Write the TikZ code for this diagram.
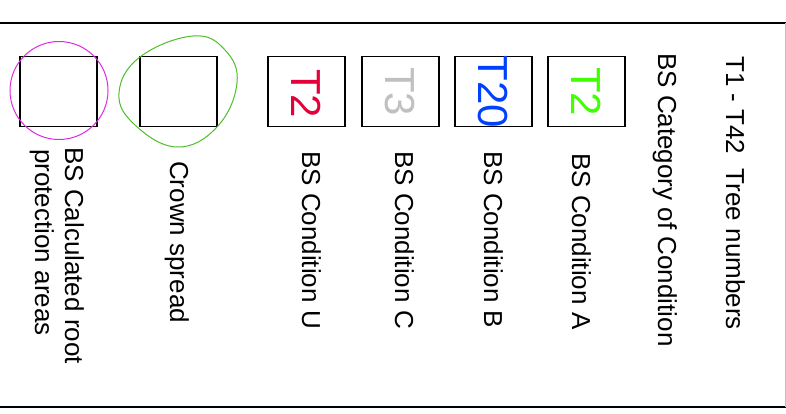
\documentclass[tikz,border=0pt]{standalone}
\usepackage{fontspec}
\setmainfont{Liberation Sans}
\definecolor{condU}{RGB}{228,0,58}
\definecolor{condC}{RGB}{192,192,192}
\definecolor{condB}{RGB}{0,64,255}
\definecolor{condA}{RGB}{64,255,0}
\definecolor{rpa}{RGB}{225,40,225}
\definecolor{crown}{RGB}{80,190,40}
\begin{document}
\begin{tikzpicture}[x=1pt,y=-1pt,
  swatch/.style={draw=black, line width=1.5pt, minimum width=77pt, minimum height=70pt, inner sep=0pt, anchor=north west},
  code/.style={font=\fontsize{42}{48}\selectfont, rotate=-90, inner sep=0pt},
  lbl/.style={font=\fontsize{26}{30}\selectfont, rotate=-90, anchor=base west, inner sep=0pt},
  outline/.style={line width=1pt}]
\useasboundingbox (0,0) rectangle (786,414);
% frame
\draw[line width=2pt] (0,23) -- (786,23);
\draw[line width=2.5pt] (0,407) -- (786,407);
\draw[black!25, line width=1pt] (785,23) -- (785,407);
% swatches
\node[swatch] (rpabox) at (19,56) {};
\node[swatch] (crownbox) at (139,56) {};
\node[swatch] (ubox) at (267,56) {};
\node[swatch] (cbox) at (361,56) {};
\node[swatch] (bbox) at (454,56) {};
\node[swatch] (abox) at (547,56) {};
% outlines
\draw[rpa, outline] (59,90.5) circle (49);
\draw[crown, outline] plot[smooth cycle, tension=0.7] coordinates
  {(193,36) (225,50) (237,83) (217,127) (177,147) (135,125) (119,93) (140,57)};
% tree numbers
\node[code, text=condU] (tu) at ([yshift=-2pt]ubox.center) {T2};
\node[code, text=condC] (tc) at (cbox.center) {T3};
\node[code, text=condB] (tb) at (bbox.center) {T20};
\node[code, text=condA] (ta) at (abox.center) {T2};
% labels
\node[lbl] (lnum) at (726,56) {T1 - T42~~Tree numbers};
\node[lbl] (lcat) at (658,53) {BS Category of Condition};
\node[lbl] (la) at (572,153) {BS Condition A};
\node[lbl] (lb) at (484,151) {BS Condition B};
\node[lbl] (lc) at (395,151) {BS Condition C};
\node[lbl] (lu) at (302,151) {BS Condition U};
\node[lbl] (lcrown) at (170,161) {Crown spread};
\node[lbl] (lrpa1) at (65,147) {BS Calculated root};
\node[lbl] (lrpa2) at (35,149) {protection areas};
\end{tikzpicture}
\end{document}
